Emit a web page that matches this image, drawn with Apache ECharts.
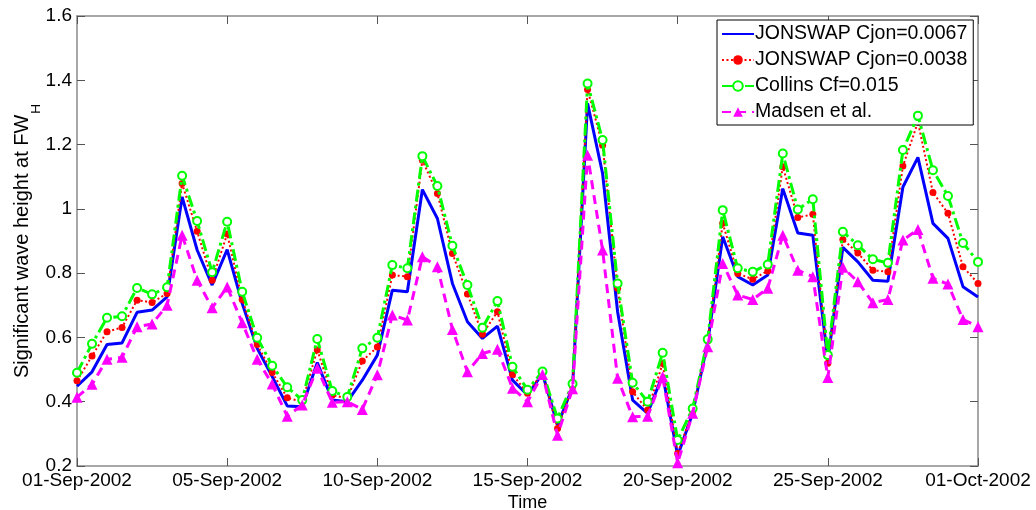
<!DOCTYPE html>
<html>
<head>
<meta charset="utf-8">
<title>Significant wave height at FW_H, September 2002</title>
<script src="https://cdn.jsdelivr.net/npm/echarts@6/dist/echarts.min.js"></script>
<style>
  html, body { margin: 0; padding: 0; background: #fff; }
  #chart { width: 1036px; height: 510px; }
</style>
</head>
<body>
<div id="chart"></div>
<script>
// Time steps are 12 h apart, starting 01-Sep-2002 00:00 (step 0) to 01-Oct-2002 (step 60).
const tickLabels = ['01-Sep-2002', '05-Sep-2002', '10-Sep-2002', '15-Sep-2002',
                    '20-Sep-2002', '25-Sep-2002', '01-Oct-2002'];

const seriesNames = ['JONSWAP Cjon=0.0067', 'JONSWAP Cjon=0.0038', 'Collins Cf=0.015', 'Madsen et al.'];

// Significant wave height (m) per 12 h step
const jonswap0067 = [
  0.448, 0.493, 0.578, 0.583, 0.678, 0.685, 0.726, 1.037, 0.872, 0.763,
  0.873, 0.706, 0.566, 0.478, 0.387, 0.384, 0.522, 0.405, 0.400, 0.467,
  0.545, 0.747, 0.742, 1.060, 0.970, 0.768, 0.649, 0.597, 0.635, 0.467,
  0.421, 0.487, 0.327, 0.445, 1.328, 1.110, 0.680, 0.405, 0.364, 0.483,
  0.232, 0.364, 0.585, 0.913, 0.789, 0.763, 0.794, 1.063, 0.925, 0.918,
  0.530, 0.880, 0.835, 0.778, 0.775, 1.068, 1.160, 0.955, 0.908, 0.758,
  0.726
];
const jonswap0038 = [
  0.465, 0.542, 0.618, 0.631, 0.716, 0.709, 0.737, 1.079, 0.930, 0.778,
  0.922, 0.718, 0.578, 0.491, 0.412, 0.400, 0.561, 0.421, 0.410, 0.527,
  0.570, 0.794, 0.789, 1.151, 1.048, 0.861, 0.735, 0.610, 0.680, 0.485,
  0.426, 0.490, 0.317, 0.447, 1.371, 1.198, 0.753, 0.431, 0.374, 0.519,
  0.239, 0.370, 0.590, 0.955, 0.799, 0.781, 0.807, 1.131, 0.973, 0.983,
  0.520, 0.905, 0.863, 0.809, 0.804, 1.133, 1.270, 1.051, 0.986, 0.820,
  0.768
];
const collins015 = [
  0.490, 0.580, 0.661, 0.666, 0.754, 0.734, 0.756, 1.103, 0.962, 0.803,
  0.960, 0.742, 0.599, 0.512, 0.445, 0.405, 0.595, 0.433, 0.415, 0.566,
  0.599, 0.825, 0.815, 1.164, 1.071, 0.885, 0.763, 0.630, 0.713, 0.509,
  0.437, 0.494, 0.348, 0.456, 1.390, 1.214, 0.768, 0.459, 0.400, 0.552,
  0.281, 0.379, 0.594, 0.996, 0.815, 0.804, 0.827, 1.172, 0.998, 1.030,
  0.545, 0.929, 0.887, 0.843, 0.832, 1.183, 1.290, 1.120, 1.040, 0.894,
  0.835
];
const madsen = [
  0.414, 0.454, 0.532, 0.538, 0.633, 0.642, 0.700, 0.918, 0.778, 0.692,
  0.757, 0.646, 0.532, 0.455, 0.355, 0.390, 0.504, 0.398, 0.400, 0.376,
  0.484, 0.670, 0.654, 0.851, 0.820, 0.625, 0.493, 0.550, 0.563, 0.442,
  0.400, 0.485, 0.296, 0.440, 1.167, 0.872, 0.473, 0.353, 0.355, 0.478,
  0.210, 0.364, 0.571, 0.830, 0.732, 0.718, 0.753, 0.918, 0.809, 0.789,
  0.475, 0.818, 0.773, 0.708, 0.718, 0.903, 0.936, 0.784, 0.766, 0.656,
  0.633
];

const FONT = '"Liberation Sans", Arial, sans-serif';
const AXIS_GRAY = '#8a8a8a';
const toPoints = arr => arr.map((v, i) => [i, v]);

const boxAxis = {
  axisLine: { show: true, onZero: false, lineStyle: { color: AXIS_GRAY, width: 1.5 } },
  axisTick: { show: true, inside: true, length: 8, lineStyle: { color: '#555', width: 1 } },
  splitLine: { show: false }
};

const chart = echarts.init(document.getElementById('chart'), null, { renderer: 'canvas' });

chart.setOption({
  animation: false,
  backgroundColor: '#fff',
  textStyle: { fontFamily: FONT },
  grid: { left: 77, right: 58, top: 16, bottom: 44, outerBoundsMode: 'none', containLabel: false },
  legend: {
    data: [
      // the solid line has no marker, so its legend sample shows the line only
      { name: seriesNames[0], itemStyle: { opacity: 0 } },
      { name: seriesNames[1] },
      { name: seriesNames[2], itemStyle: { color: '#00ff00' } },
      { name: seriesNames[3] }
    ],
    orient: 'vertical',
    left: 717,
    top: 20,
    itemWidth: 32,
    itemHeight: 12,
    itemGap: 6,
    padding: [4, 6, 3, 4],
    backgroundColor: '#fff',
    borderColor: '#000',
    borderWidth: 1,
    textStyle: { fontFamily: FONT, fontSize: 19.5, color: '#000', padding: [0, 0, 0, -4] }
  },
  xAxis: [
    Object.assign({
      type: 'value', min: 0, max: 60, interval: 10, position: 'bottom',
      name: 'Time', nameLocation: 'middle', nameGap: 28, nameMoveOverlap: false,
      nameTextStyle: { fontFamily: FONT, fontSize: 18, color: '#000' },
      axisLabel: {
        fontFamily: FONT, fontSize: 19, color: '#000', margin: 5,
        showMinLabel: true, showMaxLabel: true,
        formatter: v => tickLabels[Math.round(v / 10)] || ''
      }
    }, boxAxis),
    Object.assign({
      type: 'value', min: 0, max: 60, interval: 10, position: 'top',
      axisLabel: { show: false }
    }, boxAxis)
  ],
  yAxis: [
    Object.assign({
      type: 'value', min: 0.2, max: 1.6, interval: 0.2, position: 'left',
      name: '{m|Significant wave height at FW}{s|H}',
      nameLocation: 'middle', nameRotate: 90, nameGap: 43, nameMoveOverlap: false,
      nameTextStyle: {
        color: '#000',
        rich: {
          m: { fontFamily: FONT, fontSize: 20, color: '#000', lineHeight: 22, verticalAlign: 'top' },
          s: { fontFamily: FONT, fontSize: 13.5, color: '#000', lineHeight: 13, padding: [17, 0, 0, 1], verticalAlign: 'top' }
        }
      },
      axisLabel: {
        fontFamily: FONT, fontSize: 19, color: '#000', margin: 5,
        showMinLabel: true, showMaxLabel: true,
        formatter: v => String(Math.round(v * 10) / 10)
      }
    }, boxAxis),
    Object.assign({
      type: 'value', min: 0.2, max: 1.6, interval: 0.2, position: 'right',
      axisLabel: { show: false }
    }, boxAxis)
  ],
  series: [
    {
      name: seriesNames[0], type: 'line', data: toPoints(jonswap0067),
      showSymbol: false, symbol: 'circle', z: 2,
      lineStyle: { color: '#0000ff', width: 3, type: 'solid' },
      itemStyle: { color: '#0000ff' }
    },
    {
      name: seriesNames[1], type: 'line', data: toPoints(jonswap0038),
      symbol: 'circle', symbolSize: 7, z: 3,
      lineStyle: { color: '#ff0000', width: 2, type: [2, 2.5] },
      itemStyle: { color: '#ff0000' }
    },
    {
      name: seriesNames[2], type: 'line', data: toPoints(collins015),
      symbol: 'emptyCircle', symbolSize: 8, z: 4,
      lineStyle: { color: '#00ff00', width: 3, type: [12, 4, 3, 4] },
      itemStyle: { color: '#00ff00', borderColor: '#00ff00', borderWidth: 3 }
    },
    {
      name: seriesNames[3], type: 'line', data: toPoints(madsen),
      symbol: 'triangle', symbolSize: 11, z: 5,
      lineStyle: { color: '#ff00ff', width: 3, type: [9, 6] },
      itemStyle: { color: '#ff00ff' }
    }
  ]
});
</script>
</body>
</html>
